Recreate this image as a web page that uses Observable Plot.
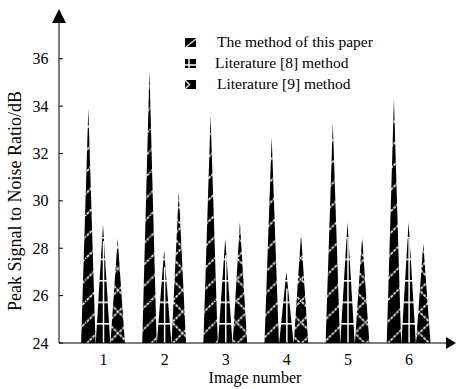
<!DOCTYPE html>
<html>
<head>
<meta charset="utf-8">
<script src="https://cdn.jsdelivr.net/npm/d3@7"></script>
<script src="https://cdn.jsdelivr.net/npm/@observablehq/plot@0.6"></script>
<style>
  html, body { margin: 0; padding: 0; background: white; }
  #chart { width: 456px; height: 389px; position: relative; }
</style>
</head>
<body>
<div id="chart"></div>
<script>
const images = [1, 2, 3, 4, 5, 6];
const seriesNames = ["The method of this paper", "Literature [8] method", "Literature [9] method"];
const ours = [33.9, 35.5, 33.6, 32.7, 33.3, 34.3];
const lit8 = [29.0, 27.9, 28.4, 27.0, 29.1, 29.1];
const lit9 = [28.4, 30.4, 29.1, 28.6, 28.5, 28.2];
const yTicks = [24, 26, 28, 30, 32, 34, 36];

const BASE = 24, Y_TOP = 38.1, X_MIN = 0.28, X_MAX = 6.71;
const OFFSET = 0.24, HALF = 0.118;

function triangles(values, k) {
  const rows = [];
  values.forEach((v, i) => {
    const xc = images[i] + (k - 1) * OFFSET;
    const id = k + "-" + i;
    rows.push({id, x: xc - HALF, y: BASE});
    rows.push({id, x: xc, y: v});
    rows.push({id, x: xc + HALF, y: BASE});
  });
  return rows;
}
const t1 = triangles(ours, 0), t2 = triangles(lit8, 1), t3 = triangles(lit9, 2);
const centers8 = lit8.map((v, i) => ({x: images[i], y: v}));

const plot = Plot.plot({
  width: 456, height: 389,
  marginLeft: 59, marginRight: 4, marginTop: 9, marginBottom: 46,
  style: {fontFamily: "'Liberation Serif', 'Times New Roman', serif", fontSize: "16px", background: "white", color: "black"},
  x: {domain: [X_MIN, X_MAX], ticks: images, tickFormat: d => String(d), tickSize: 0, tickPadding: 10.5, label: null},
  y: {domain: [BASE, Y_TOP], ticks: yTicks, tickSize: 0, tickPadding: 11, label: null},
  marks: [
    Plot.areaY(t1, {x: "x", y1: () => BASE, y2: "y", z: "id", fill: "url(#pat1)"}),
    Plot.areaY(t2, {x: "x", y1: () => BASE, y2: "y", z: "id", fill: "url(#pat2)"}),
    Plot.ruleX(centers8, {x: "x", y1: () => BASE, y2: d => d.y - 0.7, stroke: "white", strokeWidth: 1.5}),
    Plot.areaY(t3, {x: "x", y1: () => BASE, y2: "y", z: "id", fill: "url(#pat3)"})
  ]
});

const svg = d3.select(plot);
const xs = plot.scale("x"), ys = plot.scale("y");
const x0 = xs.apply(X_MIN), y0 = ys.apply(BASE), yTop = ys.apply(Y_TOP);

// patterns
const defs = svg.insert("defs", ":first-child");
const S = 21.5;
const lineStyle = sel => sel.attr("stroke", "#e4e4e4").attr("stroke-width", 1.8).attr("stroke-dasharray", "3 1").attr("fill", "none");
const p1 = defs.append("pattern").attr("id", "pat1").attr("patternUnits", "userSpaceOnUse").attr("width", S).attr("height", S);
p1.append("rect").attr("width", S).attr("height", S).attr("fill", "black");
p1.append("path").attr("d", `M-2,${S + 2}L${S + 2},-2M-2,2L2,-2M${S - 2},${S + 2}L${S + 2},${S - 2}`).call(lineStyle);
const p2 = defs.append("pattern").attr("id", "pat2").attr("patternUnits", "userSpaceOnUse").attr("y", 0.5).attr("width", S).attr("height", S);
p2.append("rect").attr("width", S).attr("height", S).attr("fill", "black");
p2.append("path").attr("d", `M0,0.8H${S}`).attr("stroke", "white").attr("stroke-width", 1.6);
const p3 = defs.append("pattern").attr("id", "pat3").attr("patternUnits", "userSpaceOnUse").attr("width", S).attr("height", S);
p3.append("rect").attr("width", S).attr("height", S).attr("fill", "black");
p3.append("path").attr("d", `M-2,${S + 2}L${S + 2},-2M-2,2L2,-2M${S - 2},${S + 2}L${S + 2},${S - 2}M-2,-2L${S + 2},${S + 2}M${S - 2},-2L${S + 2},2M-2,${S - 2}L2,${S + 2}`).call(lineStyle);

// axes with arrows
const g = svg.append("g");
g.append("line").attr("x1", x0).attr("x2", x0).attr("y1", y0).attr("y2", yTop + 10).attr("stroke", "black");
g.append("path").attr("d", `M${x0},${yTop}L${x0 - 7},${yTop + 14}L${x0 + 7},${yTop + 14}Z`).attr("fill", "black");
g.append("line").attr("x1", x0).attr("x2", 448).attr("y1", y0).attr("y2", y0).attr("stroke", "black");
g.append("path").attr("d", `M456,${y0}L446,${y0 - 6}L446,${y0 + 6}Z`).attr("fill", "black");
yTicks.forEach(t => {
  g.append("line").attr("x1", x0).attr("x2", x0 + 4).attr("y1", ys.apply(t)).attr("y2", ys.apply(t)).attr("stroke", "black");
});

// axis titles
const font = "'Liberation Serif', 'Times New Roman', serif";
svg.append("text").attr("transform", "translate(21,201) rotate(-90)").attr("text-anchor", "middle")
  .attr("font-family", font).attr("font-size", 18).attr("fill", "black").text("Peak Signal to Noise Ratio/dB");
svg.append("text").attr("x", 255).attr("y", 383).attr("text-anchor", "middle")
  .attr("font-family", font).attr("font-size", 16).attr("fill", "black").text("Image number");

// legend
const lg = svg.append("g").attr("font-family", font).attr("font-size", 15.5).attr("fill", "black").attr("text-anchor", "start");
const rowsY = [47, 68, 89];
seriesNames.forEach((name, k) => {
  const by = rowsY[k];
  const sx = 185, sy = by - 9, sw = 11, sh = 9;
  lg.append("rect").attr("x", sx).attr("y", sy).attr("width", sw).attr("height", sh).attr("fill", "black");
  if (k === 0) {
    lg.append("path").attr("d", `M${sx + 1},${sy + sh}L${sx + sw},${sy + 1}`).attr("stroke", "#ddd").attr("stroke-width", 1.5);
  } else if (k === 1) {
    lg.append("path").attr("d", `M${sx + 4},${sy}V${sy + sh}M${sx},${sy + sh - 3}H${sx + sw}`).attr("stroke", "white").attr("stroke-width", 1.4);
  } else {
    lg.append("path").attr("d", `M${sx},${sy + sh}L${sx + 5},${sy + 4}M${sx},${sy}L${sx + 5},${sy + 5}`).attr("stroke", "#ddd").attr("stroke-width", 1.5);
  }
  lg.append("text").attr("x", k === 1 ? 215 : 217).attr("y", by).attr("text-anchor", "start").text(name);
});

document.getElementById("chart").appendChild(plot);
</script>
</body>
</html>
